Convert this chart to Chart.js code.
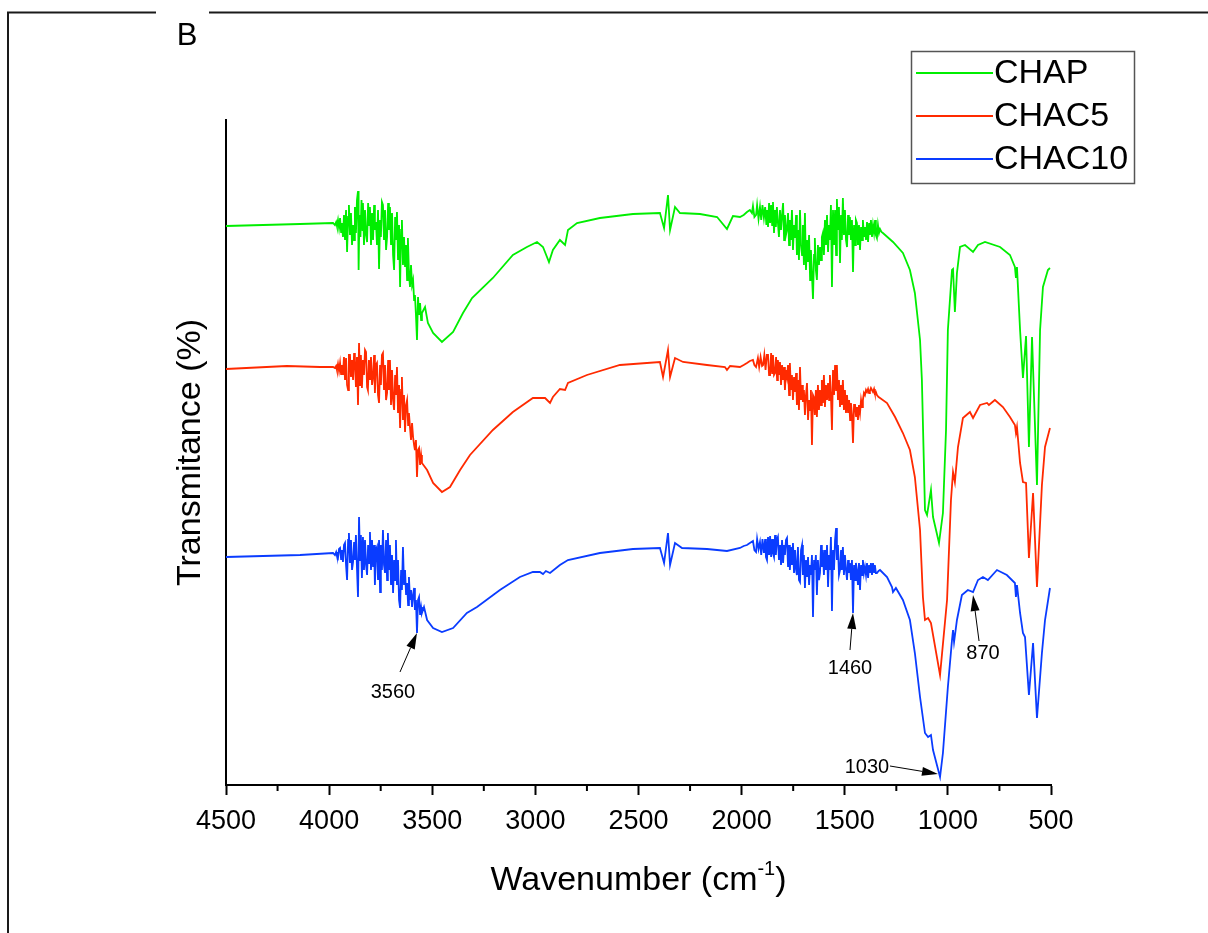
<!DOCTYPE html>
<html>
<head>
<meta charset="utf-8">
<title>FTIR spectra B</title>
<script src="https://cdn.jsdelivr.net/npm/chart.js@4.4.1/dist/chart.umd.min.js"></script>
<style>
  html, body { margin: 0; padding: 0; background: #fff; }
  #wrap { width: 1208px; height: 933px; position: relative; }
</style>
</head>
<body>
<div id="wrap"><canvas id="ftir-chart"></canvas></div>
<script>
// Spectra: [wavenumber (cm-1), transmittance (arb. units)]
const chapSpectrum = [
  [4500, 559], [4141, 561], [3981, 562], [3972, 560], [3966, 563], [3962, 559], [3957, 565], [3952, 557],
  [3947, 567], [3942, 553], [3938, 562], [3933, 548], [3928, 570], [3923, 545], [3918, 575], [3913, 533],
  [3908, 568], [3904, 580], [3899, 550], [3894, 572], [3889, 540], [3884, 560], [3879, 545], [3875, 578],
  [3870, 552], [3865, 585], [3860, 594], [3857, 515], [3853, 570], [3848, 548], [3843, 585], [3838, 555],
  [3836, 582], [3831, 540], [3826, 575], [3821, 550], [3816, 543], [3811, 582], [3806, 560], [3802, 578],
  [3797, 540], [3792, 572], [3787, 545], [3782, 580], [3778, 555], [3773, 563], [3768, 540], [3763, 575],
  [3758, 516], [3753, 565], [3749, 548], [3744, 583], [3739, 580], [3734, 545], [3729, 575], [3724, 535],
  [3719, 548], [3714, 582], [3710, 555], [3705, 578], [3700, 540], [3695, 572], [3690, 530], [3685, 515],
  [3680, 568], [3676, 545], [3671, 573], [3666, 525], [3661, 560], [3656, 498], [3651, 555], [3647, 565],
  [3642, 520], [3637, 548], [3632, 518], [3627, 540], [3622, 505], [3618, 547], [3613, 512], [3608, 498],
  [3603, 520], [3598, 500], [3593, 505], [3588, 485], [3584, 490], [3579, 470], [3574, 445], [3569, 488],
  [3564, 470], [3559, 482], [3554, 465], [3550, 472], [3535, 478], [3521, 462], [3496, 452], [3453, 443],
  [3399, 453], [3351, 472], [3307, 487], [3206, 507], [3109, 530], [3041, 538], [2992, 543], [2963, 538],
  [2934, 523], [2915, 535], [2881, 545], [2856, 540], [2842, 555], [2798, 562], [2687, 567], [2527, 571],
  [2396, 572], [2376, 557], [2357, 590], [2347, 555], [2323, 578], [2299, 572], [2202, 571], [2119, 568],
  [2071, 556], [2042, 569], [2008, 568], [1990, 570], [1974, 573], [1960, 575], [1950, 572], [1945, 579],
  [1938, 568], [1930, 570], [1925, 580], [1918, 566], [1911, 578], [1905, 565], [1899, 580], [1892, 567],
  [1886, 578], [1880, 560], [1876, 575], [1872, 558], [1867, 582], [1862, 562], [1857, 580], [1852, 560],
  [1848, 583], [1843, 552], [1838, 575], [1834, 558], [1829, 578], [1824, 562], [1819, 548], [1814, 575],
  [1809, 555], [1804, 570], [1799, 582], [1794, 545], [1790, 570], [1785, 550], [1780, 555], [1775, 572],
  [1770, 540], [1766, 565], [1761, 545], [1756, 575], [1751, 535], [1746, 560], [1741, 547], [1736, 570],
  [1732, 530], [1727, 555], [1722, 525], [1717, 575], [1712, 540], [1707, 530], [1703, 560], [1698, 520],
  [1693, 572], [1688, 515], [1683, 545], [1678, 523], [1673, 550], [1668, 505], [1664, 535], [1659, 510],
  [1654, 486], [1649, 530], [1645, 547], [1640, 515], [1635, 505], [1630, 540], [1625, 520], [1620, 538],
  [1615, 525], [1611, 548], [1606, 552], [1601, 530], [1596, 565], [1591, 540], [1586, 570], [1581, 533],
  [1576, 560], [1572, 545], [1567, 580], [1562, 498], [1557, 575], [1552, 540], [1547, 575], [1542, 530],
  [1538, 586], [1533, 555], [1528, 578], [1523, 522], [1518, 570], [1514, 545], [1509, 587], [1504, 550],
  [1499, 575], [1494, 545], [1489, 538], [1484, 570], [1480, 550], [1475, 568], [1470, 545], [1465, 565],
  [1460, 513], [1455, 560], [1450, 540], [1446, 565], [1441, 562], [1436, 540], [1431, 560], [1426, 535],
  [1421, 558], [1416, 545], [1412, 565], [1407, 548], [1402, 558], [1397, 545], [1392, 563], [1387, 543],
  [1382, 562], [1378, 550], [1373, 565], [1368, 548], [1363, 560], [1358, 552], [1353, 565], [1349, 550],
  [1344, 547], [1339, 560], [1334, 552], [1329, 556], [1322, 553], [1315, 552], [1266, 543], [1218, 532],
  [1184, 515], [1160, 492], [1135, 445], [1126, 405], [1111, 275], [1101, 270], [1082, 295], [1072, 268],
  [1043, 242], [1024, 272], [1009, 355], [1000, 455], [980, 515], [975, 516], [966, 473], [956, 512],
  [941, 538], [917, 540], [878, 533], [854, 540], [820, 543], [747, 538], [699, 530], [675, 518],
  [670, 507], [665, 518], [650, 455], [636, 407], [621, 449], [607, 338], [592, 448], [568, 300],
  [553, 455], [539, 498], [515, 515], [505, 517]
];

const chac5Spectrum = [
  [4500, 416], [4205, 419], [4044, 418], [3981, 418], [3972, 417], [3966, 419], [3962, 415], [3957, 421],
  [3952, 414], [3947, 422], [3942, 411], [3938, 420], [3933, 410], [3928, 428], [3923, 405], [3918, 427],
  [3913, 400], [3908, 395], [3904, 430], [3899, 430], [3894, 408], [3889, 425], [3884, 405], [3879, 432],
  [3875, 425], [3870, 398], [3865, 428], [3860, 380], [3855, 442], [3850, 400], [3846, 430], [3841, 397],
  [3836, 425], [3831, 410], [3826, 435], [3821, 433], [3816, 398], [3812, 395], [3807, 425], [3802, 405],
  [3797, 428], [3792, 400], [3787, 408], [3782, 430], [3778, 392], [3773, 420], [3768, 422], [3763, 390],
  [3758, 382], [3753, 420], [3749, 400], [3744, 430], [3739, 432], [3734, 395], [3729, 420], [3724, 385],
  [3719, 392], [3714, 425], [3710, 395], [3705, 425], [3700, 380], [3695, 415], [3690, 385], [3685, 375],
  [3680, 410], [3676, 390], [3671, 418], [3666, 372], [3661, 400], [3656, 357], [3651, 395], [3647, 408],
  [3642, 365], [3637, 390], [3632, 353], [3627, 380], [3622, 385], [3617, 360], [3613, 372], [3608, 358],
  [3603, 345], [3598, 362], [3593, 348], [3588, 340], [3584, 335], [3579, 345], [3574, 308], [3569, 335],
  [3564, 337], [3559, 320], [3554, 330], [3550, 322], [3525, 315], [3496, 302], [3453, 293], [3414, 298],
  [3365, 315], [3317, 330], [3206, 355], [3109, 373], [3012, 387], [2953, 387], [2929, 382], [2915, 388],
  [2881, 396], [2856, 395], [2842, 402], [2750, 410], [2590, 420], [2396, 423], [2381, 408], [2357, 435],
  [2347, 408], [2323, 427], [2284, 423], [2168, 420], [2081, 418], [2071, 415], [2056, 419], [2008, 418],
  [1990, 420], [1974, 422], [1960, 424], [1945, 425], [1938, 420], [1930, 418], [1921, 427], [1915, 418],
  [1908, 428], [1901, 419], [1896, 420], [1890, 430], [1884, 415], [1878, 430], [1872, 430], [1867, 410],
  [1862, 410], [1857, 432], [1852, 412], [1848, 430], [1843, 410], [1838, 412], [1833, 428], [1828, 405],
  [1824, 425], [1819, 410], [1814, 423], [1809, 400], [1804, 420], [1799, 405], [1794, 418], [1790, 395],
  [1785, 415], [1780, 408], [1775, 420], [1770, 390], [1766, 422], [1761, 395], [1756, 410], [1751, 385],
  [1746, 408], [1741, 393], [1736, 412], [1732, 380], [1727, 405], [1722, 375], [1717, 418], [1712, 385],
  [1707, 400], [1703, 383], [1698, 395], [1693, 370], [1688, 390], [1683, 402], [1678, 365], [1673, 385],
  [1668, 375], [1664, 395], [1659, 340], [1654, 390], [1650, 388], [1645, 370], [1640, 395], [1635, 368],
  [1630, 400], [1625, 375], [1620, 395], [1615, 380], [1611, 405], [1606, 382], [1601, 410], [1596, 378],
  [1591, 400], [1586, 385], [1581, 402], [1576, 385], [1572, 410], [1567, 390], [1562, 355], [1557, 415],
  [1552, 390], [1547, 420], [1542, 395], [1538, 420], [1533, 385], [1528, 405], [1523, 378], [1518, 400],
  [1514, 380], [1509, 405], [1504, 375], [1499, 395], [1494, 372], [1489, 390], [1484, 372], [1479, 385],
  [1474, 365], [1470, 382], [1465, 370], [1460, 342], [1455, 380], [1450, 380], [1445, 368], [1440, 378],
  [1436, 365], [1431, 380], [1426, 372], [1421, 385], [1416, 378], [1412, 385], [1407, 392], [1402, 390],
  [1397, 395], [1392, 393], [1387, 396], [1382, 392], [1378, 394], [1373, 397], [1368, 395], [1363, 393],
  [1358, 396], [1354, 392], [1349, 393], [1344, 390], [1336, 388], [1329, 387], [1295, 382], [1256, 368],
  [1218, 352], [1184, 335], [1160, 308], [1135, 255], [1121, 188], [1111, 165], [1096, 167], [1082, 162],
  [1038, 110], [1004, 185], [985, 285], [975, 313], [966, 303], [951, 338], [927, 367], [893, 373],
  [878, 367], [844, 380], [810, 382], [801, 380], [772, 385], [733, 378], [699, 368], [675, 360],
  [670, 352], [665, 358], [650, 322], [636, 303], [621, 302], [607, 227], [587, 292], [568, 198],
  [544, 300], [529, 338], [505, 357]
];

const chac10Spectrum = [
  [4500, 228], [4141, 230], [3981, 232], [3972, 230], [3966, 233], [3962, 229], [3957, 227], [3952, 236],
  [3947, 237], [3942, 226], [3938, 235], [3933, 223], [3928, 240], [3923, 242], [3918, 220], [3913, 205],
  [3908, 245], [3904, 252], [3899, 222], [3894, 245], [3889, 215], [3884, 223], [3879, 243], [3875, 225],
  [3870, 250], [3865, 217], [3860, 188], [3855, 268], [3850, 225], [3846, 250], [3841, 207], [3836, 248],
  [3831, 215], [3826, 245], [3821, 220], [3816, 210], [3811, 240], [3806, 222], [3802, 253], [3797, 215],
  [3792, 245], [3787, 218], [3782, 240], [3778, 200], [3773, 235], [3768, 238], [3763, 205], [3758, 245],
  [3753, 193], [3749, 240], [3744, 215], [3739, 255], [3734, 220], [3729, 212], [3724, 245], [3719, 205],
  [3715, 252], [3710, 215], [3705, 240], [3700, 200], [3695, 230], [3690, 192], [3685, 225], [3680, 205],
  [3676, 245], [3671, 200], [3666, 225], [3661, 185], [3656, 177], [3651, 215], [3647, 195], [3642, 238],
  [3637, 200], [3632, 215], [3627, 190], [3622, 202], [3617, 180], [3613, 208], [3608, 185], [3603, 195],
  [3598, 178], [3593, 190], [3588, 197], [3584, 175], [3579, 185], [3574, 152], [3569, 185], [3564, 188],
  [3559, 170], [3554, 178], [3550, 172], [3540, 178], [3525, 165], [3496, 157], [3453, 153], [3399, 157],
  [3332, 172], [3283, 178], [3172, 195], [3075, 208], [3012, 213], [2978, 213], [2963, 211], [2949, 214],
  [2929, 212], [2881, 220], [2842, 225], [2687, 232], [2527, 236], [2396, 237], [2376, 222], [2357, 252],
  [2347, 220], [2323, 242], [2289, 237], [2168, 236], [2071, 234], [2008, 237], [1990, 239], [1974, 240],
  [1960, 242], [1945, 244], [1938, 235], [1930, 233], [1925, 246], [1918, 236], [1911, 243], [1905, 230],
  [1899, 246], [1892, 232], [1886, 246], [1882, 228], [1877, 225], [1872, 248], [1867, 230], [1862, 249],
  [1857, 228], [1852, 246], [1848, 232], [1843, 228], [1838, 250], [1834, 230], [1829, 245], [1824, 248],
  [1819, 225], [1814, 240], [1809, 220], [1804, 245], [1799, 222], [1794, 240], [1790, 230], [1785, 245],
  [1780, 247], [1775, 218], [1770, 240], [1766, 215], [1761, 238], [1756, 220], [1751, 242], [1746, 212],
  [1741, 235], [1736, 215], [1732, 210], [1727, 238], [1722, 205], [1717, 203], [1712, 235], [1707, 240],
  [1703, 210], [1698, 230], [1693, 197], [1688, 225], [1683, 208], [1678, 228], [1673, 200], [1668, 220],
  [1664, 210], [1659, 230], [1654, 168], [1649, 225], [1645, 215], [1640, 230], [1635, 190], [1630, 225],
  [1625, 205], [1620, 212], [1615, 240], [1611, 218], [1606, 235], [1601, 210], [1596, 235], [1591, 215],
  [1586, 240], [1581, 198], [1576, 230], [1572, 215], [1567, 248], [1562, 174], [1557, 235], [1552, 215],
  [1547, 245], [1542, 257], [1538, 225], [1533, 240], [1528, 210], [1523, 215], [1518, 235], [1514, 215],
  [1509, 238], [1504, 210], [1499, 230], [1494, 215], [1489, 205], [1484, 225], [1480, 212], [1475, 222],
  [1470, 205], [1465, 225], [1460, 172], [1455, 220], [1450, 205], [1446, 222], [1441, 215], [1436, 200],
  [1431, 222], [1426, 195], [1421, 220], [1416, 210], [1412, 225], [1407, 212], [1402, 218], [1397, 210],
  [1392, 222], [1387, 207], [1382, 220], [1378, 212], [1373, 222], [1368, 210], [1363, 222], [1358, 213],
  [1354, 220], [1349, 212], [1344, 212], [1336, 214], [1329, 215], [1295, 208], [1271, 198], [1266, 193],
  [1252, 197], [1218, 185], [1184, 165], [1160, 132], [1135, 88], [1111, 52], [1096, 48], [1082, 50],
  [1072, 35], [1038, 8], [1024, 32], [1000, 98], [980, 145], [975, 155], [970, 143], [956, 165],
  [932, 190], [903, 195], [878, 193], [854, 205], [830, 208], [806, 205], [762, 215], [714, 210],
  [675, 202], [670, 188], [665, 200], [650, 172], [636, 152], [626, 148], [607, 90], [587, 142],
  [568, 67], [544, 132], [529, 165], [505, 197]
];

const seriesLabels = ['CHAP', 'CHAC5', 'CHAC10'];
const xTickValues = [4500, 4000, 3500, 3000, 2500, 2000, 1500, 1000, 500];

// Peak labels: text plus the point (wavenumber, transmittance) the arrow points at
const peakLabels = [
  { text: '3560', wn: 3574, t: 152 },
  { text: '1460', wn: 1460, t: 172 },
  { text: '870', wn: 878, t: 190 },
  { text: '1030', wn: 1048, t: 11 }
];

const FONT = '"Liberation Sans", Arial, Helvetica, sans-serif';
const colors = ['#00ee00', '#ff2a00', '#0a3cff'];

// where each arrow tail and text sit, relative to the arrow tip (px)
const peakLayout = {
  '3560': { tail: [-17, 39], label: [-24, 59] },
  '1460': { tail: [-3, 37], label: [-3, 55] },
  '870': { tail: [6, 46], label: [10, 58] },
  '1030': { tail: [-48, -8], label: [-71, -7] }
};

function toPoints(spectrum) {
  return spectrum.map(p => ({ x: p[0], y: p[1] }));
}

function drawArrow(ctx, x0, y0, x1, y1) {
  const ang = Math.atan2(y1 - y0, x1 - x0);
  const head = 16, half = 4.5;
  const bx = x1 - head * Math.cos(ang), by = y1 - head * Math.sin(ang);
  ctx.beginPath();
  ctx.moveTo(x0, y0);
  ctx.lineTo(bx, by);
  ctx.stroke();
  ctx.beginPath();
  ctx.moveTo(x1, y1);
  ctx.lineTo(bx + half * Math.sin(ang), by - half * Math.cos(ang));
  ctx.lineTo(bx - half * Math.sin(ang), by + half * Math.cos(ang));
  ctx.closePath();
  ctx.fill();
}

// frame, panel letter, minor ticks, x title, legend box and peak arrows
const decorPlugin = {
  id: 'decor',
  afterDraw(chart) {
    const { ctx, chartArea, scales: { x, y } } = chart;
    ctx.save();

    // outer frame with a gap for the panel letter
    ctx.strokeStyle = '#1a1a1a';
    ctx.lineWidth = 2;
    ctx.beginPath();
    ctx.moveTo(156, 12.5);
    ctx.lineTo(8, 12.5);
    ctx.lineTo(8, 933);
    ctx.moveTo(209, 12.5);
    ctx.lineTo(1208, 12.5);
    ctx.stroke();

    ctx.fillStyle = '#000';
    ctx.font = '31px ' + FONT;
    ctx.textAlign = 'center';
    ctx.textBaseline = 'alphabetic';
    ctx.fillText('B', 187, 45);

    // minor ticks every 250
    ctx.strokeStyle = '#000';
    ctx.lineWidth = 2;
    for (let v = 750; v < 4500; v += 500) {
      const px = x.getPixelForValue(v);
      ctx.beginPath();
      ctx.moveTo(px, chartArea.bottom);
      ctx.lineTo(px, chartArea.bottom + 6);
      ctx.stroke();
    }

    // x title with superscript
    const main1 = 'Wavenumber (cm', sup = '-1', main2 = ')';
    ctx.font = '34px ' + FONT;
    const w1 = ctx.measureText(main1).width;
    const w3 = ctx.measureText(main2).width;
    ctx.font = '20px ' + FONT;
    const w2 = ctx.measureText(sup).width;
    const tx = (chartArea.left + chartArea.right) / 2 - (w1 + w2 + w3) / 2;
    const base = 890;
    ctx.textAlign = 'left';
    ctx.font = '34px ' + FONT;
    ctx.fillText(main1, tx, base);
    ctx.font = '20px ' + FONT;
    ctx.fillText(sup, tx + w1, base - 15);
    ctx.font = '34px ' + FONT;
    ctx.fillText(main2, tx + w1 + w2, base);

    // legend
    ctx.strokeStyle = '#555';
    ctx.lineWidth = 1.5;
    ctx.strokeRect(911.5, 51.5, 223, 132);
    chart.data.datasets.forEach((ds, i) => {
      const ly = 73 + i * 43;
      ctx.strokeStyle = ds.borderColor;
      ctx.lineWidth = 2;
      ctx.beginPath();
      ctx.moveTo(916, ly);
      ctx.lineTo(993, ly);
      ctx.stroke();
      ctx.fillStyle = '#000';
      ctx.font = '34px ' + FONT;
      ctx.textAlign = 'left';
      ctx.textBaseline = 'middle';
      ctx.fillText(ds.label, 994, ly + 1);
    });

    // peak arrows
    ctx.strokeStyle = '#000';
    ctx.fillStyle = '#000';
    ctx.lineWidth = 1;
    ctx.font = '20px ' + FONT;
    ctx.textAlign = 'center';
    ctx.textBaseline = 'middle';
    peakLabels.forEach(p => {
      const lay = peakLayout[p.text];
      const px = x.getPixelForValue(p.wn);
      const py = y.getPixelForValue(p.t);
      drawArrow(ctx, px + lay.tail[0], py + lay.tail[1], px, py);
      ctx.fillText(p.text, px + lay.label[0], py + lay.label[1]);
    });

    ctx.restore();
  }
};

const spectra = [chapSpectrum, chac5Spectrum, chac10Spectrum];

new Chart(document.getElementById('ftir-chart'), {
  type: 'line',
  data: {
    datasets: spectra.map((s, i) => ({
      label: seriesLabels[i],
      data: toPoints(s),
      borderColor: colors[i],
      backgroundColor: colors[i],
      borderWidth: 1.8,
      pointRadius: 0,
      tension: 0,
      fill: false
    }))
  },
  options: {
    responsive: true,
    maintainAspectRatio: false,
    animation: false,
    layout: { padding: { left: 168, right: 157, top: 120, bottom: 28 } },
    plugins: {
      legend: { display: false },
      tooltip: { enabled: false }
    },
    scales: {
      x: {
        type: 'linear',
        reverse: true,
        min: 500,
        max: 4500,
        afterFit: s => { s.height = 120; },
        afterBuildTicks: s => { s.ticks = xTickValues.map(v => ({ value: v })); },
        ticks: {
          autoSkip: false,
          maxRotation: 0,
          padding: 10,
          color: '#000',
          font: { family: FONT, size: 27 },
          callback: v => String(v)
        },
        grid: {
          display: true,
          drawOnChartArea: false,
          drawTicks: true,
          tickLength: 10,
          tickColor: '#000',
          tickWidth: 2
        },
        border: { display: true, color: '#000', width: 2 }
      },
      y: {
        min: 0,
        max: 665,
        afterFit: s => { s.width = 58; },
        ticks: { display: false },
        grid: { display: false },
        border: { display: true, color: '#000', width: 2 },
        title: {
          display: true,
          text: 'Transmitance (%)',
          color: '#000',
          padding: { top: 2, bottom: 0 },
          font: { family: FONT, size: 34 }
        }
      }
    }
  },
  plugins: [decorPlugin]
});
</script>
</body>
</html>
